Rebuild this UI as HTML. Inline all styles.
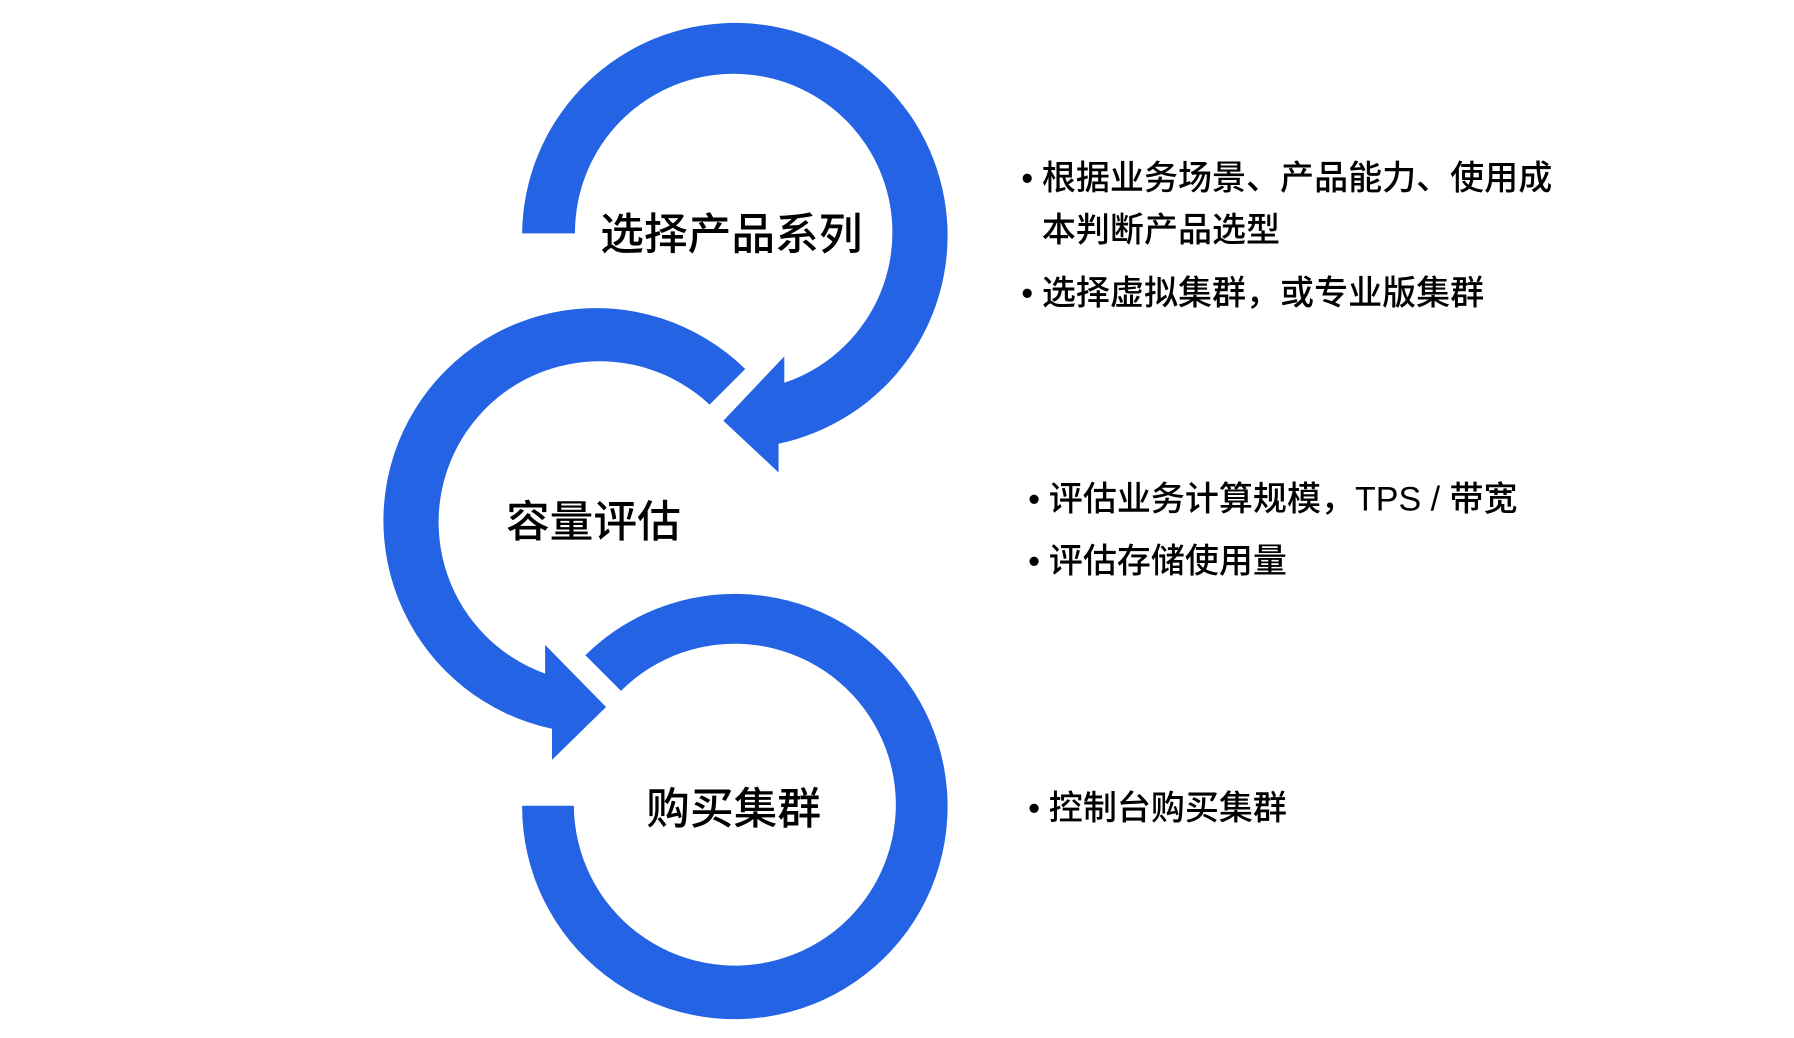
<!DOCTYPE html>
<html><head><meta charset="utf-8"><style>
html,body{margin:0;padding:0;background:#fff;}
svg{display:block;}
text{font-family:"Liberation Sans","Noto Sans CJK SC",sans-serif;fill:#000;}
</style></head><body>
<svg width="1794" height="1038" viewBox="0 0 1560 903" preserveAspectRatio="none" xmlns="http://www.w3.org/2000/svg">
<g transform="translate(-3,-2)">
<g fill="#2463E4">
<path d="M457,205 A185,185 0 1 1 680,388 L680,413 L632,368 L685,312 L685,335 A138,138 0 1 0 503,205 Z"/>
<path d="M651,323 A185,185 0 1 0 483,636 L483,663 L530,617 L477,563 L477,588 A140,140 0 1 1 620,354 Z"/>
<path d="M512,572 A185,185 0 1 1 457,703 L502,703 A140,140 0 1 0 543,603 Z"/>
</g>
<g font-size="38" text-anchor="middle" font-weight="500">
<text x="639" y="219">选择产品系列</text>
<text x="519" y="469">容量评估</text>
<text x="641" y="719">购买集群</text>
</g>
<g font-size="29.6" font-weight="500">
<text x="891" y="167">•</text><text x="909" y="167">根据业务场景、产品能力、使用成</text>
<text x="909" y="212">本判断产品选型</text>
<text x="891" y="267">•</text><text x="909" y="267">选择虚拟集群，或专业版集群</text>
<text x="897" y="446">•</text><text x="915" y="446">评估业务计算规模，TPS / 带宽</text>
<text x="897" y="500">•</text><text x="915" y="500">评估存储使用量</text>
<text x="897" y="715">•</text><text x="915" y="715">控制台购买集群</text>
</g>
</g>
</svg>
</body></html>
